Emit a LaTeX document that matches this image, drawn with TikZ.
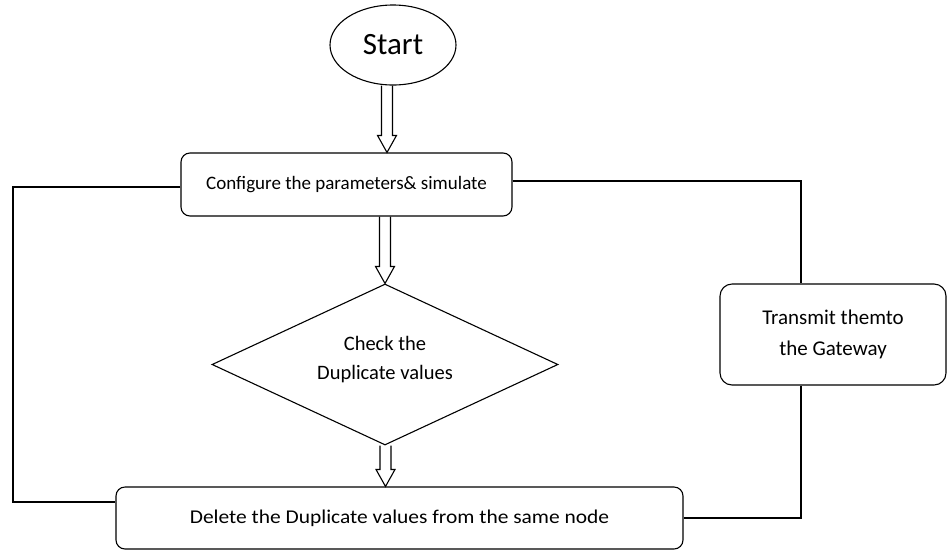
\documentclass[tikz,border=0pt]{standalone}
\usepackage{fontspec}
\setmainfont{Carlito}
\usetikzlibrary{shapes.geometric,calc}
\begin{document}
\begin{tikzpicture}[x=1pt,y=1pt,line width=1.1pt,
  rbox/.style={draw,rounded corners=9pt,align=center,inner sep=0pt},
  hollow/.style={to path={let \p1=(\tikztostart), \p2=(\tikztotarget) in
    (\x2-5.5pt,\y1) -- (\x2-5.5pt,\y2+17pt) -- (\x2-9.5pt,\y2+17pt) -- (\x2,\y2)
    -- (\x2+9.5pt,\y2+17pt) -- (\x2+5.5pt,\y2+17pt) -- (\x2+5.5pt,\y1)}}]
\useasboundingbox (0,0) rectangle (947,-550);
\node[draw,ellipse,minimum width=126pt,minimum height=80pt,inner sep=0pt,font=\fontsize{31}{36}\selectfont] (start) at (393,-45) {Start};
\node[rbox,minimum width=331pt,minimum height=63pt,font=\fontsize{19}{23}\selectfont] (cfg) at (346.5,-184.5) {Configure the parameters\& simulate};
\node[draw,diamond,minimum width=346pt,minimum height=161pt,inner sep=0pt] (dia) at (385,-364.5) {};
\node[align=center,font=\fontsize{20.5}{29}\selectfont] (diatext) at (385,-360) {Check the\\Duplicate values};
\node[rbox,minimum width=567pt,minimum height=62pt,font=\fontsize{19.5}{23}\selectfont] (del) at (399.5,-518) {\scalebox{1.1}[1]{Delete the Duplicate values from the same node}};
\node[rbox,rounded corners=12pt,minimum width=226pt,minimum height=101pt,font=\fontsize{21}{31}\selectfont] (tx) at (833,-334.5) {Transmit themto\\the Gateway};
\draw[hollow] (start.south) to ([xshift=40.5pt]cfg.north);
\draw[hollow] (cfg.south) to (dia.north);
\draw[hollow] (dia.south) to ([xshift=-14pt]del.north);
\coordinate (L) at (13,-187);
\draw ([yshift=-2.5pt]cfg.west) -- (L) |- ([yshift=16pt]del.west);
\draw ([yshift=3.5pt]cfg.east) -| ([xshift=-32pt]tx.north);
\draw ([xshift=-32pt]tx.south) |- (del.east);
\end{tikzpicture}
\end{document}
